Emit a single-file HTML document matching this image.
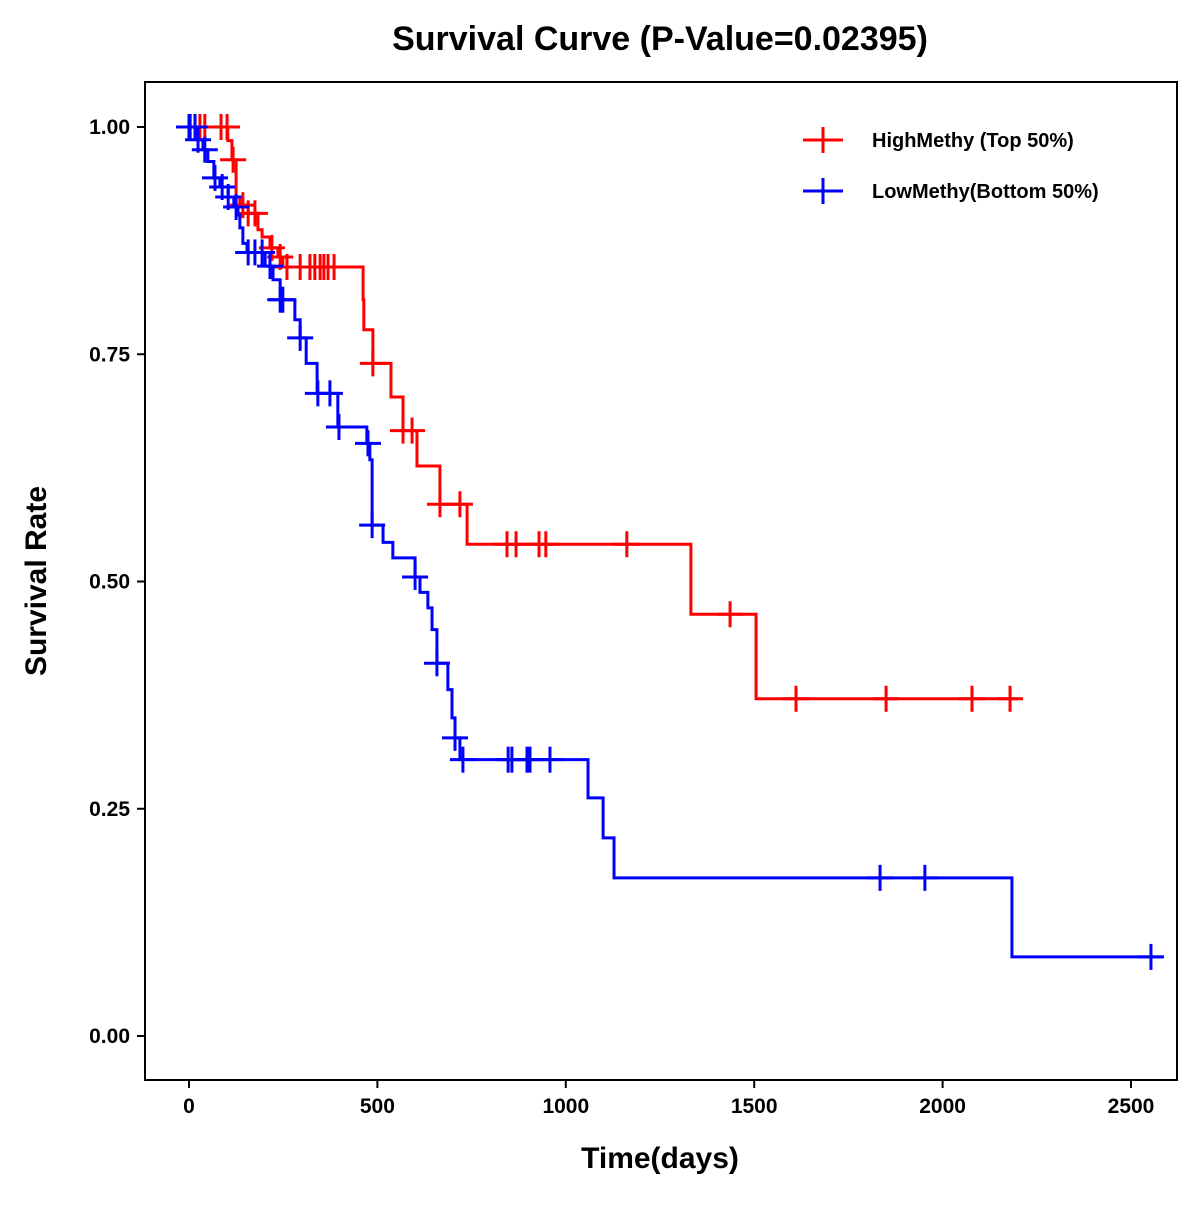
<!DOCTYPE html>
<html><head><meta charset="utf-8"><style>
html,body{margin:0;padding:0;background:#fff}
svg text{font-family:"Liberation Sans",Arial,sans-serif;font-weight:bold}
</style></head><body>
<svg id="chart" width="1200" height="1200" xmlns="http://www.w3.org/2000/svg">
<text x="660" y="50" text-anchor="middle" font-size="34">Survival Curve (P-Value=0.02395)</text>
<rect x="145" y="82" width="1032" height="998" fill="none" stroke="#000" stroke-width="2"/>
<g id="axes"></g>
<g id="series"></g>
<text x="660" y="1168" text-anchor="middle" font-size="30">Time(days)</text>
<text transform="translate(46,581) rotate(-90)" text-anchor="middle" font-size="30">Survival Rate</text>
<g>
<g>
<line x1="803" y1="140" x2="843" y2="140" stroke="#f00" stroke-width="3"/><line x1="823" y1="127" x2="823" y2="153" stroke="#f00" stroke-width="3"/>
<text x="872" y="147" font-size="20">HighMethy (Top 50%)</text></g>
<g>
<line x1="803" y1="191" x2="843" y2="191" stroke="#00f" stroke-width="3"/><line x1="823" y1="178" x2="823" y2="204" stroke="#00f" stroke-width="3"/>
<text x="872" y="198" font-size="20">LowMethy(Bottom 50%)</text></g>
</g>
</svg>
<script>
const xTicks=[0,500,1000,1500,2000,2500];
const yTicks=[0,0.25,0.5,0.75,1.0];
const yTickLabels=["0.00","0.25","0.50","0.75","1.00"];
const highTimes=[0,103,114,125,135,157,183,194,215,236,249,462,464,488,536,568,605,666,738,1332,1505];
const highSurv=[1,0.985,0.964,0.923,0.914,0.905,0.887,0.879,0.867,0.857,0.846,0.810,0.777,0.740,0.703,0.666,0.627,0.585,0.541,0.464,0.371];
const highEnd=2200;
const highCensor=[16,29,42,85,101,117,143,157,175,220,242,260,295,321,334,348,358,369,385,488,568,592,666,719,844,868,929,947,1162,1436,1611,1850,2078,2179];
const lowTimes=[0,21,37,50,66,82,104,119,130,135,143,154,202,223,242,281,295,311,340,395,472,480,486,515,541,600,613,634,645,658,687,698,706,719,1059,1099,1128,2184];
const lowSurv=[1,0.986,0.975,0.962,0.944,0.934,0.923,0.912,0.903,0.889,0.872,0.862,0.847,0.832,0.810,0.788,0.768,0.740,0.707,0.670,0.652,0.634,0.562,0.543,0.526,0.505,0.488,0.471,0.447,0.410,0.381,0.350,0.328,0.304,0.262,0.218,0.174,0.087];
const lowEnd=2585;
const lowCensor=[0,3,16,24,42,69,88,104,125,157,175,194,215,242,249,295,342,374,398,475,486,600,658,706,727,847,857,897,905,958,1834,1953,2553];

const NS="http://www.w3.org/2000/svg";
const xS=t=>189+t*(942/2500);
const yS=s=>1036-s*909;
const axes=document.getElementById('axes'), series=document.getElementById('series');
function mk(tag,attrs,parent){const e=document.createElementNS(NS,tag);for(const k in attrs)e.setAttribute(k,attrs[k]);parent.appendChild(e);return e;}
xTicks.forEach(t=>{
  const l=mk('line',{x1:xS(t),x2:xS(t),y1:1080,y2:1088,stroke:'#000','stroke-width':2},axes);
  
  
  const tx=mk('text',{x:xS(t),y:1113,'text-anchor':'middle','font-size':21},axes);tx.textContent=t;
  
  
});
yTicks.forEach((v,i)=>{
  const l=mk('line',{x1:137,x2:145,y1:yS(v),y2:yS(v),stroke:'#000','stroke-width':2},axes);
  
  
  const tx=mk('text',{x:130,y:yS(v)+7,'text-anchor':'end','font-size':21},axes);tx.textContent=yTickLabels[i];
  
  
});
function survAt(times,surv,t){let s=surv[0];for(let i=0;i<times.length;i++){if(t>=times[i])s=surv[i];}return s;}
function draw(times,surv,end,cens,color,name){
  let d='M'+xS(times[0])+','+yS(surv[0]);
  for(let i=1;i<times.length;i++){d+=' H'+xS(times[i])+' V'+yS(surv[i]);}
  d+=' H'+xS(end);
  const p=mk('path',{d:d,fill:'none',stroke:color,'stroke-width':3},series);
  
  
  cens.forEach(t=>{
    const x=xS(t),y=yS(survAt(times,surv,t));
    const g=mk('g',{},series);
    
    
    mk('line',{x1:x-13,x2:x+13,y1:y,y2:y,stroke:color,'stroke-width':3},g);
    mk('line',{x1:x,x2:x,y1:y-13,y2:y+13,stroke:color,'stroke-width':3},g);
  });
}
draw(highTimes,highSurv,highEnd,highCensor,'#f00','high-methy');
draw(lowTimes,lowSurv,lowEnd,lowCensor,'#00f','low-methy');
</script>
</body></html>
